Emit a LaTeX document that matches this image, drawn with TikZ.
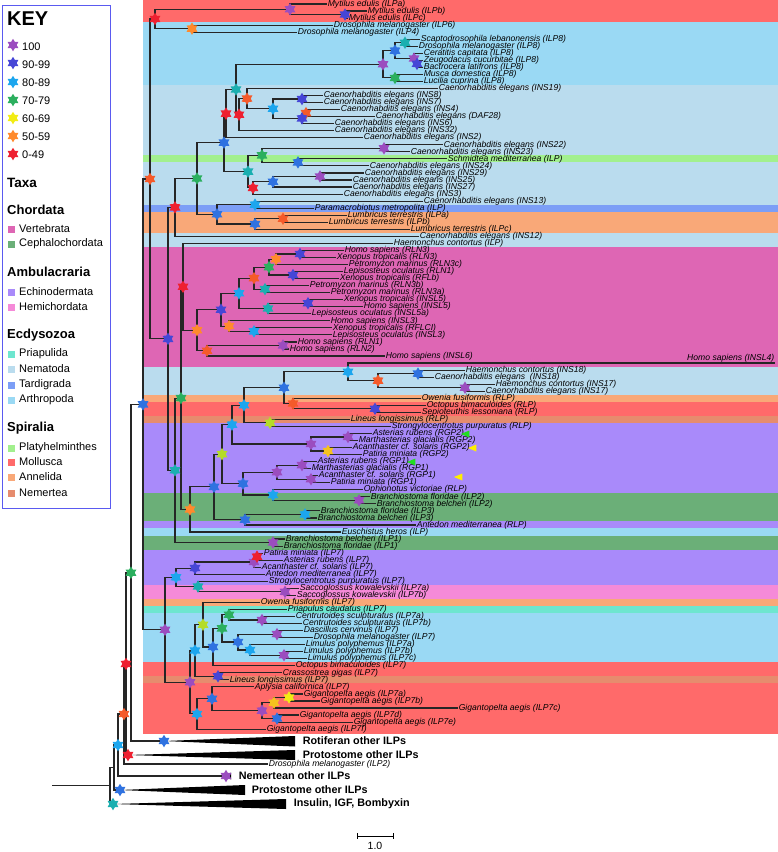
\documentclass[tikz,border=0pt]{standalone}
\usepackage{fontspec}
\setmainfont{Liberation Sans}
\usetikzlibrary{shapes.geometric}
\definecolor{bMol}{HTML}{FF6A6A}
\definecolor{bArt}{HTML}{9AD9F4}
\definecolor{bNem}{HTML}{BADCEE}
\definecolor{bPla}{HTML}{A2F08E}
\definecolor{bTar}{HTML}{7C9EF6}
\definecolor{bAnn}{HTML}{F9A878}
\definecolor{bVer}{HTML}{DE66B4}
\definecolor{bEch}{HTML}{A98AFA}
\definecolor{bCep}{HTML}{6BAF78}
\definecolor{bHem}{HTML}{F58AD8}
\definecolor{bPri}{HTML}{6EE6CF}
\definecolor{bNmt}{HTML}{E68C6E}
\definecolor{cP}{HTML}{9B4DBF}
\definecolor{cI}{HTML}{4646D6}
\definecolor{cB}{HTML}{2F72E0}
\definecolor{cS}{HTML}{1CA6EE}
\definecolor{cT}{HTML}{1AAFB0}
\definecolor{cG}{HTML}{2BAF5E}
\definecolor{cY}{HTML}{B4DC28}
\definecolor{cYe}{HTML}{F2EC14}
\definecolor{cGo}{HTML}{F5C21E}
\definecolor{cO}{HTML}{FF8A2C}
\definecolor{cRo}{HTML}{F55A2A}
\definecolor{cR}{HTML}{EE2030}
\definecolor{keyb}{HTML}{5A5AF0}
\definecolor{trG}{HTML}{22DD22}
\definecolor{trY}{HTML}{FFEE00}
\newcommand\TLeaf[4]{\coordinate (#1) at (#3,{4+7.04*(#2)}); \node[lab] (t#1) at (#1) {#4};}
\newcommand\TNode[3]{\coordinate (#1) at (#2,{4+7.04*(#3)});}
\newcommand\TE[3]{\draw[treeln] (#1) |- (#2) (#1) |- (#3);}
\newcommand\TS[2]{\node[st=#2] (s#1) at (#1) {};}
\newcommand\TBand[3]{\fill[#1] (143,{4+7.04*(#2)}) rectangle (778,{4+7.04*(#3)});}
\begin{document}
\begin{tikzpicture}[x=1pt,y=-1pt,
  treeln/.style={draw=black!85,line width=1.15pt},
  lab/.style={anchor=west,inner sep=0.6pt,font=\fontsize{8.6}{9}\selectfont\itshape},
  blab/.style={anchor=west,inner sep=0.6pt,font=\fontsize{10.8}{12}\selectfont\bfseries},
  st/.style={star,star points=6,star point ratio=1.7,minimum size=12.5pt,inner sep=0pt,fill=#1,draw=none},
  kl/.style={anchor=west,inner sep=0pt,font=\fontsize{11}{12}\selectfont},
  kh/.style={anchor=west,inner sep=0pt,font=\fontsize{13}{14}\selectfont\bfseries},
  sq/.style={minimum size=7pt,inner sep=0pt,fill=#1,draw=none},
  tri/.style={isosceles triangle,shape border rotate=180,minimum height=5pt,minimum width=7pt,inner sep=0pt,fill=#1,draw=none}]
\useasboundingbox (0,0) rectangle (778,852);
% ---------- bands
\fill[bMol] (143,0) rectangle (778,21.6);
\TBand{bArt}{2.5}{11.5}
\TBand{bNem}{11.5}{21.5}
\TBand{bPla}{21.5}{22.5}
\TBand{bNem}{22.5}{28.5}
\TBand{bTar}{28.5}{29.5}
\TBand{bAnn}{29.5}{32.5}
\TBand{bNem}{32.5}{34.5}
\TBand{bVer}{34.5}{51.5}
\TBand{bNem}{51.5}{55.5}
\TBand{bAnn}{55.5}{56.5}
\TBand{bMol}{56.5}{58.5}
\TBand{bNmt}{58.5}{59.5}
\TBand{bEch}{59.5}{69.5}
\TBand{bCep}{69.5}{73.5}
\TBand{bEch}{73.5}{74.5}
\TBand{bArt}{74.5}{75.5}
\TBand{bCep}{75.5}{77.5}
\TBand{bEch}{77.5}{82.5}
\TBand{bHem}{82.5}{84.5}
\TBand{bAnn}{84.5}{85.5}
\TBand{bPri}{85.5}{86.5}
\TBand{bArt}{86.5}{93.5}
\TBand{bMol}{93.5}{95.5}
\TBand{bNmt}{95.5}{96.5}
\fill[bMol] (143,{4+7.04*96.5}) rectangle (778,734);
% ---------- key
\draw[draw=keyb,line width=1pt] (2,5) rectangle (110,508);
\node[anchor=west,inner sep=0pt,font=\fontsize{20}{22}\selectfont\bfseries] (kKEY) at (7,19) {KEY};
\node[st=cP] (k1) at (13,45) {}; \node[kl] (k1t) at (22,47) {100};
\node[st=cI] (k2) at (13,63) {}; \node[kl] (k2t) at (22,65) {90-99};
\node[st=cS] (k3) at (13,82) {}; \node[kl] (k3t) at (22,83) {80-89};
\node[st=cG] (k4) at (13,100) {}; \node[kl] (k4t) at (22,101) {70-79};
\node[st=cYe] (k5) at (13,118) {}; \node[kl] (k5t) at (22,119) {60-69};
\node[st=cO] (k6) at (13,136) {}; \node[kl] (k6t) at (22,137) {50-59};
\node[st=cR] (k7) at (13,154) {}; \node[kl] (k7t) at (22,155) {0-49};
\node[anchor=west,inner sep=0pt,font=\fontsize{13.5}{14}\selectfont\bfseries] (kTaxa) at (7,183) {Taxa};
\node[kh] (h1) at (7,210) {Chordata};
\node[sq=bVer] (q1) at (11,229) {}; \node[kl] (q1t) at (19,229) {Vertebrata};
\node[sq=bCep] (q2) at (11,244) {}; \node[kl] (q2t) at (19,244) {Cephalochordata};
\node[kh] (h2) at (7,272) {Ambulacraria};
\node[sq=bEch] (q3) at (11,292) {}; \node[kl] (q3t) at (19,292) {Echinodermata};
\node[sq=bHem] (q4) at (11,307) {}; \node[kl] (q4t) at (19,307) {Hemichordata};
\node[kh] (h3) at (7,335) {Ecdysozoa};
\node[sq=bPri] (q5) at (11,354) {}; \node[kl] (q5t) at (19,354) {Priapulida};
\node[sq=bNem] (q6) at (11,369) {}; \node[kl] (q6t) at (19,369) {Nematoda};
\node[sq=bTar] (q7) at (11,385) {}; \node[kl] (q7t) at (19,385) {Tardigrada};
\node[sq=bArt] (q8) at (11,400) {}; \node[kl] (q8t) at (19,400) {Arthropoda};
\node[kh] (h4) at (7,428) {Spiralia};
\node[sq=bPla] (q9) at (11,448) {}; \node[kl] (q9t) at (19,448) {Platyhelminthes};
\node[sq=bMol] (q10) at (11,462) {}; \node[kl] (q10t) at (19,462) {Mollusca};
\node[sq=bAnn] (q11) at (11,477) {}; \node[kl] (q11t) at (19,477) {Annelida};
\node[sq=bNmt] (q12) at (11,493) {}; \node[kl] (q12t) at (19,493) {Nemertea};
% ---------- leaves
\TLeaf{L0}{0}{327}{Mytilus edulis (ILPa)}
\TLeaf{L1}{1}{367}{Mytilus edulis (ILPb)}
\TLeaf{L2}{2}{348}{Mytilus edulis (ILPc)}
\TLeaf{L3}{3}{333}{Drosophila melanogaster (ILP6)}
\TLeaf{L4}{4}{297}{Drosophila melanogaster (ILP4)}
\TLeaf{L5}{5}{420}{Scaptodrosophila lebanonensis (ILP8)}
\TLeaf{L6}{6}{418}{Drosophila melanogaster (ILP8)}
\TLeaf{L7}{7}{423}{Ceratitis capitata (ILP8)}
\TLeaf{L8}{8}{423}{Zeugodacus cucurbitae (ILP8)}
\TLeaf{L9}{9}{423}{Bactrocera latifrons (ILP8)}
\TLeaf{L10}{10}{423}{Musca domestica (ILP8)}
\TLeaf{L11}{11}{423}{Lucilia cuprina (ILP8)}
\TLeaf{L12}{12}{438}{Caenorhabditis elegans (INS19)}
\TLeaf{L13}{13}{323}{Caenorhabditis elegans (INS8)}
\TLeaf{L14}{14}{323}{Caenorhabditis elegans (INS7)}
\TLeaf{L15}{15}{340}{Caenorhabditis elegans (INS4)}
\TLeaf{L16}{16}{375}{Caenorhabditis elegans (DAF28)}
\TLeaf{L17}{17}{334}{Caenorhabditis elegans (INS6)}
\TLeaf{L18}{18}{334}{Caenorhabditis elegans (INS32)}
\TLeaf{L19}{19}{363}{Caenorhabditis elegans (INS2)}
\TLeaf{L20}{20}{443}{Caenorhabditis elegans (INS22)}
\TLeaf{L21}{21}{410}{Caenorhabditis elegans (INS23)}
\TLeaf{L22}{22}{447}{Schmidtea mediterranea (ILP)}
\TLeaf{L23}{23}{369}{Caenorhabditis elegans (INS24)}
\TLeaf{L24}{24}{364}{Caenorhabditis elegans (INS29)}
\TLeaf{L25}{25}{352}{Caenorhabditis elegans (INS25)}
\TLeaf{L26}{26}{352}{Caenorhabditis elegans (INS27)}
\TLeaf{L27}{27}{343}{Caenorhabditis elegans (INS3)}
\TLeaf{L28}{28}{423}{Caenorhabditis elegans (INS13)}
\TLeaf{L29}{29}{314}{Paramacrobiotus metropolita (ILP)}
\TLeaf{L30}{30}{347}{Lumbricus terrestris (ILPa)}
\TLeaf{L31}{31}{328}{Lumbricus terrestris (ILPb)}
\TLeaf{L32}{32}{410}{Lumbricus terrestris (ILPc)}
\TLeaf{L33}{33}{419}{Caenorhabditis elegans (INS12)}
\TLeaf{L34}{34}{393}{Haemonchus contortus (ILP)}
\TLeaf{L35}{35}{344}{Homo sapiens (RLN3)}
\TLeaf{L36}{36}{336}{Xenopus tropicalis (RLN3)}
\TLeaf{L37}{37}{348}{Petromyzon marinus (RLN3c)}
\TLeaf{L38}{38}{343}{Lepisosteus oculatus (RLN1)}
\TLeaf{L39}{39}{339}{Xenopus tropicalis (RFLb)}
\TLeaf{L40}{40}{309}{Petromyzon marinus (RLN3b)}
\TLeaf{L41}{41}{330}{Petromyzon marinus (RLN3a)}
\TLeaf{L42}{42}{343}{Xenopus tropicalis (INSL5)}
\TLeaf{L43}{43}{363}{Homo sapiens (INSL5)}
\TLeaf{L44}{44}{311}{Lepisosteus oculatus (INSL5a)}
\TLeaf{L45}{45}{330}{Homo sapiens (INSL3)}
\TLeaf{L46}{46}{332}{Xenopus tropicalis (RFLCI)}
\TLeaf{L47}{47}{332}{Lepisosteus oculatus (INSL3)}
\TLeaf{L48}{48}{297}{Homo sapiens (RLN1)}
\TLeaf{L49}{49}{289}{Homo sapiens (RLN2)}
\TLeaf{L50}{50}{385}{Homo sapiens (INSL6)}
\coordinate (L51) at (775,{4+7.04*51});
\TLeaf{L52}{52}{465}{Haemonchus contortus (INS18)}
\TLeaf{L53}{53}{434}{Caenorhabditis elegans\ \ (INS18)}
\TLeaf{L54}{54}{495}{Haemonchus contortus (INS17)}
\TLeaf{L55}{55}{485}{Caenorhabditis elegans (INS17)}
\TLeaf{L56}{56}{421}{Owenia fusiformis (RLP)}
\TLeaf{L57}{57}{426}{Octopus bimaculoides (RLP)}
\TLeaf{L58}{58}{421}{Sepioteuthis lessoniana (RLP)}
\TLeaf{L59}{59}{350}{Lineus longissimus (RLP)}
\TLeaf{L60}{60}{391}{Strongylocentrotus purpuratus (RLP)}
\TLeaf{L61}{61}{372}{Asterias rubens (RGP2)}
\TLeaf{L62}{62}{358}{Marthasterias glacialis (RGP2)}
\TLeaf{L63}{63}{352}{Acanthaster cf. solaris (RGP2)}
\TLeaf{L64}{64}{362}{Patiria miniata (RGP2)}
\TLeaf{L65}{65}{317}{Asterias rubens (RGP1)}
\TLeaf{L66}{66}{311}{Marthasterias glacialis (RGP1)}
\TLeaf{L67}{67}{318}{Acanthaster cf. solaris (RGP1)}
\TLeaf{L68}{68}{330}{Patiria miniata (RGP1)}
\TLeaf{L69}{69}{363}{Ophionotus victoriae (RLP)}
\TLeaf{L70}{70}{370}{Branchiostoma floridae (ILP2)}
\TLeaf{L71}{71}{376}{Branchiostoma belcheri (ILP2)}
\TLeaf{L72}{72}{320}{Branchiostoma floridae (ILP3)}
\TLeaf{L73}{73}{317}{Branchiostoma belcheri (ILP3)}
\TLeaf{L74}{74}{416}{Antedon mediterranea (RLP)}
\TLeaf{L75}{75}{341}{Euschistus heros (ILP)}
\TLeaf{L76}{76}{285}{Branchiostoma belcheri (ILP1)}
\TLeaf{L77}{77}{283}{Branchiostoma floridae (ILP1)}
\TLeaf{L78}{78}{263}{Patiria miniata (ILP7)}
\TLeaf{L79}{79}{283}{Asterias rubens (ILP7)}
\TLeaf{L80}{80}{261}{Acanthaster cf. solaris (ILP7)}
\TLeaf{L81}{81}{265}{Antedon mediterranea (ILP7)}
\TLeaf{L82}{82}{268}{Strogylocentrotus purpuratus (ILP7)}
\TLeaf{L83}{83}{299}{Saccoglossus kowalevskii (ILP7a)}
\TLeaf{L84}{84}{296}{Saccoglossus kowalevskii (ILP7b)}
\TLeaf{L85}{85}{260}{Owenia fusiformis (ILP7)}
\TLeaf{L86}{86}{287}{Priapulus caudatus (ILP7)}
\TLeaf{L87}{87}{295}{Centrutoides sculpturatus (ILP7a)}
\TLeaf{L88}{88}{302}{Centrutoides sculpturatus (ILP7b)}
\TLeaf{L89}{89}{303}{Dascillus cervinus (ILP7)}
\TLeaf{L90}{90}{313}{Drosophila melanogaster (ILP7)}
\TLeaf{L91}{91}{305}{Limulus polyphemus (ILP7a)}
\TLeaf{L92}{92}{303}{Limulus polyphemus (ILP7b)}
\TLeaf{L93}{93}{307}{Limulus polyphemus (ILP7c)}
\TLeaf{L94}{94}{295}{Octopus bimaculoides (ILP7)}
\TLeaf{L95}{95}{282}{Crassostrea gigas (ILP7)}
\TLeaf{L96}{96}{229}{Lineus longissimus (ILP7)}
\TLeaf{L97}{97}{254}{Aplysia californica (ILP7)}
\TLeaf{L98}{98}{303}{Gigantopelta aegis (ILP7a)}
\TLeaf{L99}{99}{320}{Gigantopelta aegis (ILP7b)}
\TLeaf{L100}{100}{458}{Gigantopelta aegis (ILP7c)}
\TLeaf{L101}{101}{299}{Gigantopelta aegis (ILP7d)}
\TLeaf{L102}{102}{353}{Gigantopelta aegis (ILP7e)}
\TLeaf{L103}{103}{266}{Gigantopelta aegis (ILP7f)}
% ---------- internal nodes
\TNode{Mb}{345}{1.5}\TNode{M}{290}{0.75}\TNode{D}{192}{3.5}\TNode{A}{155}{2.125}
\TNode{g1}{405}{5.5}\TNode{b2}{417}{8.5}\TNode{p1}{414}{7.75}\TNode{bl1}{395}{6.625}
\TNode{g2}{395}{10.5}\TNode{p8}{383}{8.5625}
\TNode{na}{302}{13.5}\TNode{nb}{306}{15.5}\TNode{nc}{302}{16.25}\TNode{nd}{273}{14.875}
\TNode{ne}{247}{13.4375}\TNode{R2}{239}{15.72}\TNode{T}{236}{12.14}\TNode{R1}{226}{15.57}
\TNode{pu2}{384}{20.5}\TNode{bu2}{298}{22.5}\TNode{gr3}{262}{21.5}\TNode{pu3}{320}{24.5}
\TNode{bl3}{273}{25.25}\TNode{rd3}{253}{26.125}\TNode{te3}{248}{23.81}\TNode{N1}{224}{19.69}
\TNode{lb4}{255}{28.5}\TNode{rd4}{283}{30.5}\TNode{bl4}{255}{31.25}\TNode{T1}{217}{29.875}
\TNode{G}{197}{24.78}\TNode{R3}{175}{28.89}
\TNode{pv1}{300}{35.5}\TNode{ov1}{276}{36.25}\TNode{bv1}{293}{38.5}\TNode{gv1}{269}{37.375}
\TNode{tv1}{265}{40.5}\TNode{rv1}{254}{38.94}\TNode{pv2}{308}{42.5}\TNode{tv2}{268}{43.25}
\TNode{bv2}{239}{41.09}\TNode{bv3}{254}{46.5}\TNode{ov3}{229}{45.75}\TNode{bv4}{221}{43.42}
\TNode{pv5}{283}{48.5}\TNode{ov5}{207}{49.25}\TNode{Or2}{197}{46.34}\TNode{Rd}{183}{40.17}
\TNode{bn1}{418}{52.5}\TNode{pn1}{465}{54.5}\TNode{rn1}{378}{53.5}\TNode{bn2}{348}{52.25}
\TNode{bm1}{375}{57.5}\TNode{rm1}{293}{56.75}\TNode{bx}{284}{54.5}\TNode{yg1}{270}{59.5}
\TNode{tx}{244}{57}\TNode{pe1}{348}{61.5}\TNode{ye1}{328}{63.5}\TNode{pe2}{311}{62.5}
\TNode{tx2}{232}{59.75}\TNode{pe3}{302}{65.5}\TNode{pe4}{311}{67.5}\TNode{pe5}{277}{66.5}
\TNode{pc1}{359}{70.5}\TNode{bc1}{273}{69.75}\TNode{be1}{243}{68.125}\TNode{YG}{222}{63.94}
\TNode{bc2}{305}{72.5}\TNode{bc3}{245}{73.25}\TNode{bz}{214}{68.59}\TNode{Or3}{190}{71.8}
\TNode{G2}{181}{55.98}\TNode{pc4}{273}{76.5}\TNode{T2}{175}{66.24}\TNode{P}{168}{47.57}
\TNode{O1}{150}{24.85}
\TNode{rq1}{257}{78.5}\TNode{pq1}{254}{79.25}\TNode{bq1}{195}{80.125}\TNode{pq2}{285}{83.5}
\TNode{tq2}{198}{82.75}\TNode{tq}{176}{81.44}\TNode{pr1}{262}{87.5}\TNode{gr1}{229}{86.75}
\TNode{pr2}{277}{89.5}\TNode{pr3}{284}{92.5}\TNode{lr1}{250}{91.75}\TNode{br1}{238}{90.625}
\TNode{gr2}{222}{88.69}\TNode{br2}{213}{91.34}\TNode{yr}{203}{88.17}\TNode{bo}{218}{95.5}
\TNode{bo2}{195}{91.84}\TNode{yy}{289}{98.5}\TNode{oy}{274}{99.25}\TNode{bd}{277}{101.5}
\TNode{pg}{262}{100.375}\TNode{bg}{212}{98.69}\TNode{lg}{197}{100.84}\TNode{P3}{190}{96.34}
\TNode{P2}{165}{88.89}\TNode{B0}{143}{56.87}
\coordinate (Rot) at (164,741);
\coordinate (Pr1) at (128,755);
\coordinate (LD2) at (268,764);
\coordinate (Nm) at (226,776);
\coordinate (Pr2) at (120,790);
\coordinate (Ins) at (113,804);
\coordinate (G0) at (131,572.7);
\coordinate (Rd1) at (126,663.9);
\coordinate (Orb) at (124,714);
\coordinate (LB) at (118,745);
\coordinate (N767) at (114,767.5);
\coordinate (Root) at (110,785.75);
\coordinate (RootL) at (52,785.75);
% ---------- edges
\TE{Mb}{L1}{L2}\TE{M}{L0}{Mb}\TE{D}{L3}{L4}\TE{A}{M}{D}
\TE{g1}{L5}{L6}\TE{b2}{L8}{L9}\TE{p1}{L7}{b2}\TE{bl1}{g1}{p1}\TE{g2}{L10}{L11}\TE{p8}{bl1}{g2}
\TE{na}{L13}{L14}\TE{nb}{L15}{L16}\TE{nc}{nb}{L17}\TE{nd}{na}{nc}\TE{ne}{L12}{nd}
\TE{R2}{ne}{L18}\TE{T}{p8}{R2}\TE{R1}{T}{L19}
\TE{pu2}{L20}{L21}\TE{bu2}{L22}{L23}\TE{gr3}{pu2}{bu2}\TE{pu3}{L24}{L25}\TE{bl3}{pu3}{L26}
\TE{rd3}{bl3}{L27}\TE{te3}{gr3}{rd3}\TE{N1}{R1}{te3}
\TE{lb4}{L28}{L29}\TE{rd4}{L30}{L31}\TE{bl4}{rd4}{L32}\TE{T1}{lb4}{bl4}\TE{G}{N1}{T1}\TE{R3}{G}{L33}
\TE{pv1}{L35}{L36}\TE{ov1}{pv1}{L37}\TE{bv1}{L38}{L39}\TE{gv1}{ov1}{bv1}\TE{tv1}{L40}{L41}
\TE{rv1}{gv1}{tv1}\TE{pv2}{L42}{L43}\TE{tv2}{pv2}{L44}\TE{bv2}{rv1}{tv2}\TE{bv3}{L46}{L47}
\TE{ov3}{L45}{bv3}\TE{bv4}{bv2}{ov3}\TE{pv5}{L48}{L49}\TE{ov5}{pv5}{L50}\TE{Or2}{bv4}{ov5}\TE{Rd}{L34}{Or2}
\TE{bn1}{L52}{L53}\TE{pn1}{L54}{L55}\TE{rn1}{bn1}{pn1}\TE{bn2}{L51}{rn1}\TE{bm1}{L57}{L58}
\TE{rm1}{L56}{bm1}\TE{bx}{bn2}{rm1}\TE{yg1}{L59}{L60}\TE{tx}{bx}{yg1}\TE{pe1}{L61}{L62}
\TE{ye1}{L63}{L64}\TE{pe2}{pe1}{ye1}\TE{tx2}{tx}{pe2}\TE{pe3}{L65}{L66}\TE{pe4}{L67}{L68}
\TE{pe5}{pe3}{pe4}\TE{pc1}{L70}{L71}\TE{bc1}{L69}{pc1}\TE{be1}{pe5}{bc1}\TE{YG}{tx2}{be1}
\TE{bc2}{L72}{L73}\TE{bc3}{bc2}{L74}\TE{bz}{YG}{bc3}\TE{Or3}{bz}{L75}\TE{G2}{Rd}{Or3}
\TE{pc4}{L76}{L77}\TE{T2}{G2}{pc4}\TE{P}{R3}{T2}\TE{O1}{A}{P}
\TE{rq1}{L78}{L79}\TE{pq1}{rq1}{L80}\TE{bq1}{pq1}{L81}\TE{pq2}{L83}{L84}\TE{tq2}{L82}{pq2}
\TE{tq}{bq1}{tq2}\TE{pr1}{L87}{L88}\TE{gr1}{L86}{pr1}\TE{pr2}{L89}{L90}\TE{pr3}{L92}{L93}
\TE{lr1}{L91}{pr3}\TE{br1}{pr2}{lr1}\TE{gr2}{gr1}{br1}\TE{br2}{gr2}{L94}\TE{yr}{L85}{br2}
\TE{bo}{L95}{L96}\TE{bo2}{yr}{bo}\TE{yy}{L98}{L99}\TE{oy}{yy}{L100}\TE{bd}{L101}{L102}
\TE{pg}{oy}{bd}\TE{bg}{L97}{pg}\TE{lg}{bg}{L103}\TE{P3}{bo2}{lg}\TE{P2}{tq}{P3}\TE{B0}{O1}{P2}
\TE{G0}{B0}{Rot}\TE{Rd1}{G0}{Pr1}\TE{Orb}{Rd1}{LD2}\TE{LB}{Orb}{Nm}\TE{N767}{LB}{Pr2}\TE{Root}{N767}{Ins}
\draw[treeln] (RootL) -- (Root);
% ---------- collapsed wedges
\fill[black] (Rot) -- (295,736) -- (295,746.5) -- cycle;
\fill[black] (Pr1) -- (295,750) -- (295,760) -- cycle;
\fill[black] (Nm) -- (231,772.5) -- (231,779.5) -- cycle;
\fill[black] (Pr2) -- (245,785) -- (245,795) -- cycle;
\fill[black] (Ins) -- (286,799) -- (286,809) -- cycle;
% ---------- stars
\TS{A}{cR}\TS{M}{cP}\TS{Mb}{cI}\TS{D}{cO}
\TS{p8}{cP}\TS{bl1}{cB}\TS{g1}{cT}\TS{p1}{cP}\TS{b2}{cI}\TS{g2}{cG}
\TS{T}{cT}\TS{R1}{cR}\TS{R2}{cR}\TS{ne}{cRo}\TS{na}{cI}\TS{nb}{cRo}\TS{nc}{cI}\TS{nd}{cS}
\TS{N1}{cB}\TS{te3}{cT}\TS{gr3}{cG}\TS{pu2}{cP}\TS{bu2}{cB}\TS{rd3}{cR}\TS{bl3}{cB}\TS{pu3}{cP}
\TS{G}{cG}\TS{R3}{cR}\TS{O1}{cRo}\TS{lb4}{cS}\TS{T1}{cB}\TS{bl4}{cB}\TS{rd4}{cRo}
\TS{Rd}{cR}\TS{Or2}{cO}\TS{bv4}{cI}\TS{bv2}{cS}\TS{rv1}{cRo}\TS{gv1}{cG}\TS{ov1}{cO}
\TS{pv1}{cI}\TS{bv1}{cI}\TS{tv1}{cT}\TS{tv2}{cT}\TS{pv2}{cI}\TS{ov3}{cO}\TS{bv3}{cS}
\TS{ov5}{cRo}\TS{pv5}{cP}\TS{P}{cI}
\TS{bn2}{cS}\TS{rn1}{cRo}\TS{bn1}{cB}\TS{pn1}{cP}\TS{bx}{cB}\TS{rm1}{cRo}\TS{bm1}{cI}
\TS{tx}{cS}\TS{yg1}{cY}\TS{tx2}{cS}\TS{pe2}{cP}\TS{pe1}{cP}\TS{ye1}{cGo}\TS{YG}{cY}
\TS{pe5}{cP}\TS{pe3}{cP}\TS{pe4}{cP}\TS{be1}{cB}\TS{bc1}{cS}\TS{pc1}{cP}\TS{bz}{cB}
\TS{bc3}{cB}\TS{bc2}{cS}\TS{Or3}{cO}\TS{G2}{cG}\TS{pc4}{cP}\TS{T2}{cT}\TS{B0}{cB}
\TS{pq1}{cP}\TS{rq1}{cR}\TS{bq1}{cI}\TS{tq}{cS}\TS{tq2}{cT}\TS{pq2}{cP}\TS{yr}{cY}
\TS{gr1}{cG}\TS{pr1}{cP}\TS{gr2}{cG}\TS{pr2}{cP}\TS{br1}{cB}\TS{lr1}{cS}\TS{pr3}{cP}
\TS{br2}{cB}\TS{bo2}{cS}\TS{bo}{cI}\TS{P3}{cP}\TS{bg}{cB}\TS{lg}{cS}\TS{pg}{cP}
\TS{oy}{cGo}\TS{yy}{cYe}\TS{bd}{cB}\TS{P2}{cP}
\TS{G0}{cG}\TS{Rd1}{cR}\TS{Orb}{cRo}\TS{LB}{cS}\TS{Pr1}{cR}\TS{Rot}{cB}\TS{Nm}{cP}
\TS{Pr2}{cB}\TS{Ins}{cT}
% ---------- special labels
\node[lab,anchor=east] (tL51) at (775,358) {Homo sapiens (INSL4)};
\node[lab] (tLD2) at (LD2) {Drosophila melanogaster (ILP2)};
\node[blab] (tRot) at (302,741) {Rotiferan other ILPs};
\node[blab] (tPr1) at (302,755) {Protostome other ILPs};
\node[blab] (tNm) at (238,776) {Nemertean other ILPs};
\node[blab] (tPr2) at (251,790) {Protostome other ILPs};
\node[blab] (tIns) at (293,804) {Insulin, IGF, Bombyxin};
% ---------- markers
\node[tri=trG] (m1) at (467,434) {};
\node[tri=trY] (m2) at (474,448) {};
\node[tri=trG] (m3) at (413,462) {};
\node[tri=trY] (m4) at (460,477) {};
% ---------- scale bar
\coordinate (sb1) at (357,836);
\coordinate (sb2) at (393,836);
\draw[line width=0.8pt] (sb1) -- (sb2);
\draw[line width=0.8pt] (357,833) -- (357,839) (393,833) -- (393,839);
\node[font=\fontsize{10.5}{12}\selectfont,inner sep=0pt] (sbt) at (375,845.5) {1.0};
\end{tikzpicture}
\end{document}
